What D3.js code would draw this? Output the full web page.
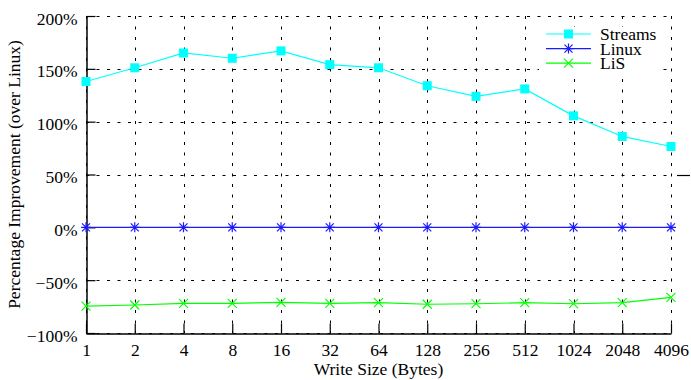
<!DOCTYPE html>
<html>
  <head>
    <meta charset="utf-8">
    <style>
      body { margin: 0; background: #fff; }
      svg, svg text { font-family: "Liberation Serif", "Times New Roman", Times, "DejaVu Serif", serif !important; }
    </style>
  </head>
  <body>
    <script src="https://d3js.org/d3.v7.min.js"></script>
    <script>
      var sizes = ["1", "2", "4", "8", "16", "32", "64", "128", "256", "512", "1024", "2048", "4096"];
      var streams = [138, 151, 165, 160, 167, 154, 151, 134, 124, 131, 105.5, 86, 76.5];
      var linux = [0, 0, 0, 0, 0, 0, 0, 0, 0, 0, 0, 0, 0];
      var lis = [-74.5, -73.5, -72, -72, -71, -72, -71.3, -72.8, -72.3, -71.3, -72.3, -71.3, -66.2];
      var yTicks = [-100, -50, 0, 50, 100, 150, 200];
      var seriesNames = ["Streams", "Linux", "LiS"];
      var seriesColors = ["#00ffff", "#1a1aff", "#00ff00"];

      var width = 691, height = 380;
      var pl = 86, pr = 671, pt = 16, pb = 333;

      var svg = d3.select("body").append("svg")
        .attr("width", width).attr("height", height)
        .attr("font-size", 17.5);

      var x = d3.scalePoint().domain(sizes).range([pl, pr]);
      var y = d3.scaleLinear().domain([-100, 200]).range([pb, pt]);

      // dotted grid
      var grid = svg.append("g")
        .attr("stroke", "#000").attr("stroke-width", 1)
        .attr("stroke-dasharray", "3,7.5");
      grid.selectAll(".gx").data(sizes).enter().append("line")
        .attr("x1", function (d) { return Math.round(x(d)) + 0.5; })
        .attr("x2", function (d) { return Math.round(x(d)) + 0.5; })
        .attr("y1", pt).attr("y2", pb);
      grid.selectAll(".gy").data(yTicks).enter().append("line")
        .attr("y1", function (d) { return Math.round(y(d)) + 0.5; })
        .attr("y2", function (d) { return Math.round(y(d)) + 0.5; })
        .attr("x1", pl).attr("x2", pr);

      // axes, ticks pointing inward
      var xAxis = svg.append("g")
        .attr("transform", "translate(0," + (pb + 0.5) + ")")
        .call(d3.axisBottom(x).tickSize(-10).tickSizeOuter(0).tickPadding(12));
      var yAxis = svg.append("g")
        .attr("transform", "translate(" + (pl + 0.5) + ",0)")
        .call(d3.axisLeft(y).tickValues(yTicks).tickSize(-9).tickSizeOuter(0).tickPadding(18)
          .tickFormat(function (d) { return (d < 0 ? "\u2212" + (-d) : d) + "%"; }));
      [xAxis, yAxis].forEach(function (a) {
        a.attr("font-size", 17.5).attr("font-family", null);
        a.select(".domain").attr("stroke", "#000").attr("stroke-width", 1.5);
        a.selectAll(".tick line").attr("stroke", "#000").attr("stroke-width", 1.2);
        a.selectAll(".tick text").attr("fill", "#000");
      });
      xAxis.selectAll(".tick text").attr("dy", null).attr("y", 22);
      yAxis.selectAll(".tick text").attr("dy", null).attr("y", 8).attr("x", -9);

      // stray mark on the right at 50%
      svg.append("line")
        .attr("x1", pr + 6).attr("x2", pr + 19)
        .attr("y1", Math.round(y(50)) + 0.5).attr("y2", Math.round(y(50)) + 0.5)
        .attr("stroke", "#000").attr("stroke-width", 1.2);

      svg.append("text").attr("x", (pl + pr) / 2).attr("y", 375)
        .attr("text-anchor", "middle").text("Write Size (Bytes)");
      svg.append("text")
        .attr("transform", "translate(20," + (pt + pb) / 2 + ") rotate(-90)")
        .attr("text-anchor", "middle").text("Percentage Improvement (over Linux)");

      function marker(g, kind, color) {
        if (kind === 0) {
          g.append("rect").attr("x", -4.5).attr("y", -4.5).attr("width", 9).attr("height", 9)
            .attr("fill", color);
        } else if (kind === 1) {
          g.append("path").attr("d", "M-5,0H5M0,-5V5M-4,-4L4,4M-4,4L4,-4")
            .attr("stroke", color).attr("stroke-width", 1.2).attr("fill", "none");
        } else {
          g.append("path").attr("d", "M-4.5,-4.5L4.5,4.5M-4.5,4.5L4.5,-4.5")
            .attr("stroke", color).attr("stroke-width", 1.1).attr("fill", "none");
        }
      }

      var allSeries = [streams, linux, lis];
      var line = d3.line()
        .x(function (d, i) { return x(sizes[i]); })
        .y(function (d) { return y(d); });

      // legend background
      svg.append("rect").attr("x", 539).attr("y", 27).attr("width", 122).attr("height", 49)
        .attr("fill", "#fff");

      [2, 1, 0].forEach(function (k) {
        var vals = allSeries[k];
        svg.append("path").datum(vals).attr("d", line)
          .attr("fill", "none").attr("stroke", seriesColors[k]).attr("stroke-width", 1.2);
        svg.append("g").selectAll("g").data(vals).enter().append("g")
          .attr("transform", function (d, i) { return "translate(" + x(sizes[i]) + "," + y(d) + ")"; })
          .each(function () { marker(d3.select(this), k, seriesColors[k]); });
      });

      var legend = svg.append("g").attr("transform", "translate(546,34)");
      seriesNames.forEach(function (name, k) {
        var row = legend.append("g").attr("transform", "translate(0," + (k * 14.6) + ")");
        row.append("line").attr("x1", 0).attr("x2", 45).attr("y1", 0).attr("y2", 0)
          .attr("stroke", seriesColors[k]).attr("stroke-width", 1.2);
        marker(row.append("g").attr("transform", "translate(22.5,0)"), k, seriesColors[k]);
        row.append("text").attr("x", 54).attr("y", 6).text(name);
      });
    </script>
  </body>
</html>
